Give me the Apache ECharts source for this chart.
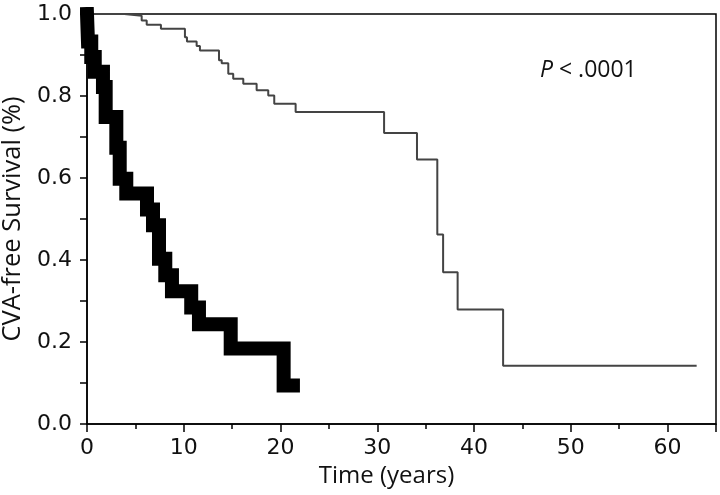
<!DOCTYPE html>
<html>
<head>
<meta charset="utf-8">
<title>CVA-free Survival</title>
<script src="https://cdn.jsdelivr.net/npm/echarts@6/dist/echarts.min.js"></script>
<style>
  html, body { margin: 0; padding: 0; background: #fff; }
  #chart { width: 720px; height: 495px; }
</style>
</head>
<body>
<div id="chart"></div>
<script>
// thick curve: time (years) of each step and survival after it
const thickTimes = [0, 0.1, 0.44, 0.8, 1.65, 1.93, 3.03, 3.38, 4.06, 6.2, 6.82, 7.44, 8.09, 8.78, 10.77, 11.57, 14.85, 20.32, 21.28]
const thickSurv = [1.0, 0.933, 0.895, 0.859, 0.822, 0.749, 0.674, 0.598, 0.562, 0.523, 0.485, 0.403, 0.363, 0.324, 0.284, 0.243, 0.184, 0.094, 0.094]

// thin curve
const thinTimes = [0, 3.85, 5.65, 6.17, 7.64, 10.12, 10.33, 11.33, 11.67, 13.64, 13.92, 14.6, 15.11, 16.15, 17.53, 18.73, 19.35, 21.56, 30.7, 34.1, 36.2, 36.8, 38.3, 43.0, 63.0]
const thinSurv = [1.0, 0.996, 0.984, 0.974, 0.964, 0.943, 0.933, 0.922, 0.911, 0.887, 0.88, 0.854, 0.842, 0.83, 0.814, 0.801, 0.781, 0.761, 0.71, 0.645, 0.462, 0.37, 0.279, 0.142, 0.142]

const yTicks = [0, 0.2, 0.4, 0.6, 0.8, 1.0]
const xTicks = [0, 10, 20, 30, 40, 50, 60]

const labelFont = 'DejaVu Sans'
const titleFont = 'Open Sans'

const chart = echarts.init(document.getElementById('chart'))
const option = {
  animation: false,
  grid: {
    left: 87, right: 4, top: 14, bottom: 71,
    outerBoundsMode: 'none',
    show: true, borderColor: '#000', borderWidth: 1.5, backgroundColor: '#fff'
  },
  xAxis: [
    {
      type: 'value', min: 0, max: 65, interval: 10,
      name: 'Time (years)', nameLocation: 'middle', nameGap: 33,
      nameTextStyle: { fontFamily: titleFont, fontSize: 24, color: '#111', padding: [0, 30, 0, 0] },
      axisLine: { show: true, lineStyle: { color: '#000', width: 1.5 } },
      axisTick: { show: true, inside: false, length: 8, lineStyle: { color: '#000', width: 1.5 } },
      axisLabel: {
        fontFamily: labelFont, fontSize: 22, color: '#111', margin: 13,
        formatter: v => (xTicks.indexOf(v) >= 0 ? String(v) : '')
      },
      splitLine: { show: false }
    },
    {
      // short ticks every 5 years
      type: 'value', min: 0, max: 65, interval: 5, position: 'bottom',
      axisLine: { show: false },
      axisTick: { show: true, length: 5, lineStyle: { color: '#000', width: 1.5 } },
      axisLabel: { show: false },
      splitLine: { show: false }
    }
  ],
  yAxis: {
    type: 'value', min: 0, max: 1, interval: 0.2,
    name: 'CVA-free Survival (%)', nameLocation: 'middle', nameGap: 59,
    nameTextStyle: { fontFamily: titleFont, fontSize: 25.5, color: '#111' },
    axisLine: { show: true, lineStyle: { color: '#000', width: 1.5 } },
    axisTick: { show: true, length: 7, lineStyle: { color: '#000', width: 1.5 } },
    minorTick: { show: true, splitNumber: 2, length: 7, lineStyle: { color: '#000', width: 1.5 } },
    axisLabel: {
      fontFamily: labelFont, fontSize: 22, color: '#111', margin: 15,
      formatter: v => (yTicks.indexOf(v) >= 0 ? v.toFixed(1) : '')
    },
    splitLine: { show: false }
  },
  graphic: [
    {
      type: 'text', left: 540, top: 59,
      style: {
        text: '{i|P} < .0001',
        fontFamily: titleFont, fontSize: 23, fill: '#111',
        rich: { i: { fontStyle: 'italic', fontFamily: titleFont, fontSize: 23 } }
      }
    }
  ],
  series: [
    {
      name: 'thin', type: 'line', step: 'end', symbol: 'none',
      data: thinTimes.map((t, i) => [t, thinSurv[i]]),
      lineStyle: { color: '#444', width: 2 }
    },
    {
      name: 'thick', type: 'line', step: 'end', symbol: 'none',
      data: thickTimes.map((t, i) => [t, thickSurv[i]]),
      lineStyle: { color: '#000', width: 14, cap: 'square', join: 'miter' }
    }
  ]
}
chart.setOption(option)
</script>
</body>
</html>
